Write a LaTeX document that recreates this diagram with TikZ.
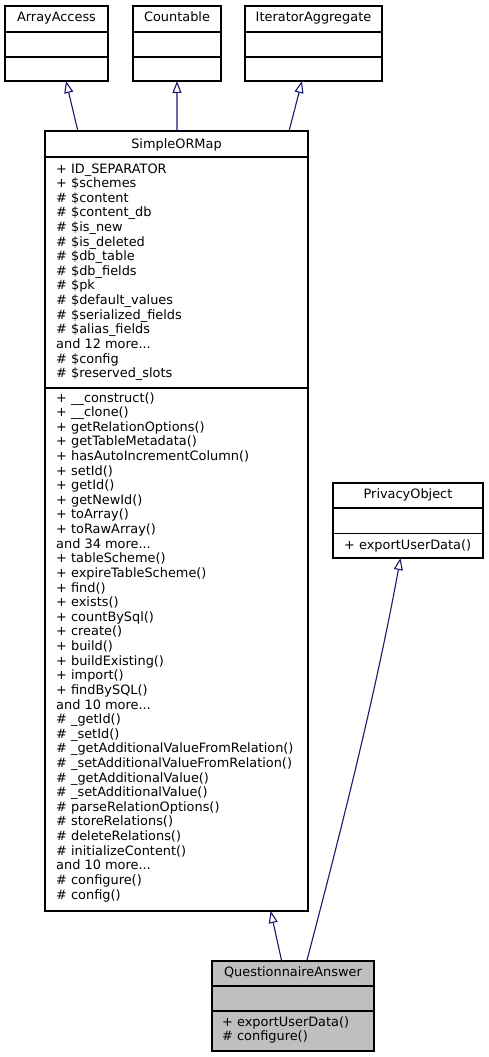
\documentclass[tikz,border=0pt]{standalone}
\usepackage{fontspec}
\setmainfont{DejaVu Sans}
\usetikzlibrary{arrows.meta,calc}
\definecolor{edgeblue}{HTML}{191970}
\definecolor{qafill}{HTML}{BFBFBF}
\newcommand\mydots{...}
\begin{document}
\begin{tikzpicture}[x=1pt,y=-1pt,
  cls/.style={draw=black,line width=1.1pt,inner sep=0pt,outer sep=0pt,anchor=north west},
  sepline/.style={draw=black,line width=1.1pt},
  txt/.style={inner sep=0pt,anchor=base west,font=\fontsize{12.9}{14}\selectfont},
  ttl/.style={inner sep=0pt,anchor=base,font=\fontsize{12.9}{14}\selectfont},
  inh/.style={draw=edgeblue,line width=1.1pt,-{Triangle[open,length=12pt,width=9pt,fill=white]}}]
\useasboundingbox (0,0) rectangle (489,1057);
% top interfaces
\node[cls,minimum width=103pt,minimum height=75pt] (aa) at (5,6) {};
\draw[sepline] (5,32) -- (108,32) (5,57) -- (108,57);
\node[ttl] (aat) at (56.5,22) {ArrayAccess};
\node[cls,minimum width=88pt,minimum height=75pt] (cnt) at (133,6) {};
\draw[sepline] (133,32) -- (221,32) (133,57) -- (221,57);
\node[ttl] (cntt) at (177,22) {Countable};
\node[cls,minimum width=137pt,minimum height=75pt] (ia) at (245,6) {};
\draw[sepline] (245,32) -- (382,32) (245,57) -- (382,57);
\node[ttl] (iat) at (313.5,22) {IteratorAggregate};
% SimpleORMap
\node[cls,minimum width=263pt,minimum height=780pt] (sorm) at (45,131) {};
\draw[sepline] (45,157) -- (308,157) (45,388) -- (308,388);
\node[ttl] (sormt) at (176.5,148) {SimpleORMap};
\foreach \t [count=\i from 0] in {+ ID\_SEPARATOR,+ \$schemes,\# \$content,\# \$content\_db,\# \$is\_new,\# \$is\_deleted,\# \$db\_table,\# \$db\_fields,\# \$pk,\# \$default\_values,\# \$serialized\_fields,\# \$alias\_fields,and 12 more\mydots,\# \$config,\# \$reserved\_slots}
  \node[txt] (sa\i) at (56,{173+14.62*\i}) {\t};
\foreach \t [count=\i from 0] in {+ \_\_construct(),+ \_\_clone(),+ getRelationOptions(),+ getTableMetadata(),+ hasAutoIncrementColumn(),+ setId(),+ getId(),+ getNewId(),+ toArray(),+ toRawArray(),and 34 more\mydots,+ tableScheme(),+ expireTableScheme(),+ find(),+ exists(),+ countBySql(),+ create(),+ build(),+ buildExisting(),+ import(),+ findBySQL(),and 10 more\mydots,\# \_getId(),\# \_setId(),\# \_getAdditionalValueFromRelation(),\# \_setAdditionalValueFromRelation(),\# \_getAdditionalValue(),\# \_setAdditionalValue(),\# parseRelationOptions(),\# storeRelations(),\# deleteRelations(),\# initializeContent(),and 10 more\mydots,\# configure(),\# config()}
  \node[txt] (sm\i) at (56,{402+14.62*\i}) {\t};
% PrivacyObject
\node[cls,minimum width=150pt,minimum height=75pt] (po) at (333,483) {};
\draw[sepline] (333,508) -- (483,508) (333,533.5) -- (483,533.5);
\node[ttl] (pot) at (408,498.5) {PrivacyObject};
\node[txt] (pom) at (344,549) {+ exportUserData()};
% QuestionnaireAnswer
\node[cls,fill=qafill,minimum width=162pt,minimum height=90pt] (qa) at (212,961) {};
\draw[sepline] (212,986) -- (374,986) (212,1011) -- (374,1011);
\node[ttl] (qat) at (293,976.5) {QuestionnaireAnswer};
\node[txt] (qam1) at (222,1026.5) {+ exportUserData()};
\node[txt] (qam2) at (222,1040.5) {\# configure()};
% inheritance edges
\draw[inh] ($(sorm.north west)!0.125!(sorm.north east)$) -- ($(aa.south west)!0.592!(aa.south east)$);
\draw[inh] ($(sorm.north west)!0.502!(sorm.north east)$) -- ($(cnt.south west)!0.5!(cnt.south east)$);
\draw[inh] ($(sorm.north west)!0.928!(sorm.north east)$) -- ($(ia.south west)!0.416!(ia.south east)$);
\draw[inh] ($(qa.north west)!0.430!(qa.north east)$) -- ($(sorm.south west)!0.858!(sorm.south east)$);
\draw[inh] ($(qa.north west)!0.585!(qa.north east)$) .. controls (342,827) and (376,692) .. ($(po.south west)!0.45!(po.south east)$);
\end{tikzpicture}
\end{document}
